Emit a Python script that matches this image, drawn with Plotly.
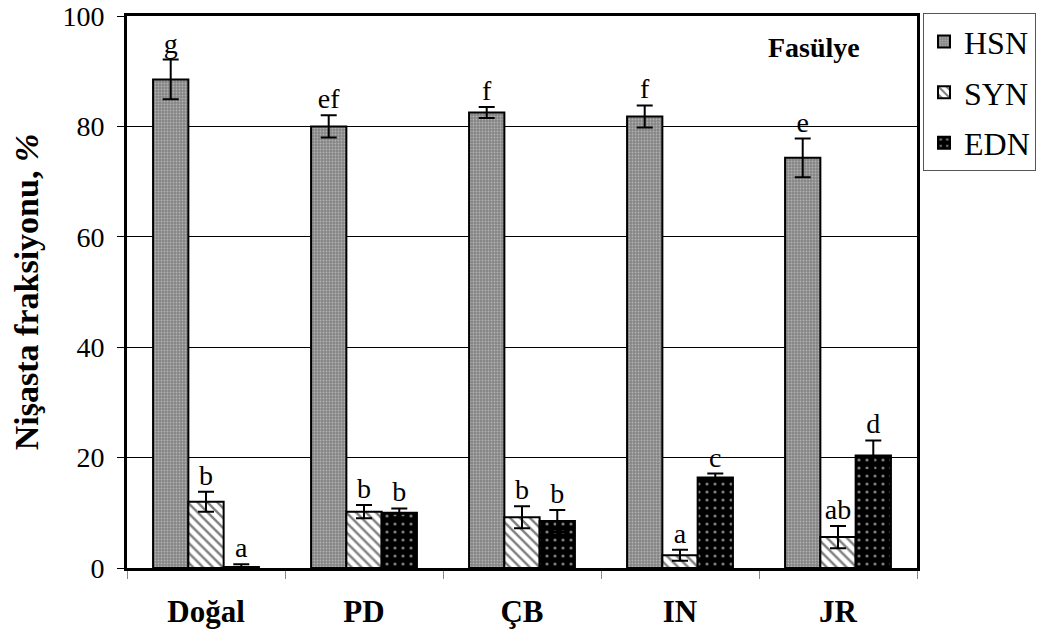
import plotly.graph_objects as go

categories = ["Doğal", "PD", "ÇB", "IN", "JR"]
series = ["HSN", "SYN", "EDN"]
hsn = [88.5, 80.0, 82.5, 81.8, 74.3]
hsn_err = [3.6, 2.0, 1.0, 2.0, 3.5]
syn = [12.0, 10.2, 9.2, 2.3, 5.6]
syn_err = [1.8, 1.2, 2.0, 1.0, 2.0]
edn = [0.2, 10.0, 8.5, 16.4, 20.4]
edn_err = [0.5, 0.8, 2.0, 0.7, 2.7]
hsn_letters = ["g", "ef", "f", "f", "e"]
syn_letters = ["b", "b", "b", "a", "ab"]
edn_letters = ["a", "b", "b", "c", "d"]
y_ticks = [0, 20, 40, 60, 80, 100]

FONT = "Liberation Serif"

styles = {
    "HSN": dict(color="#8c8c8c", pattern=dict(shape=".", fgcolor="#e0e0e0", bgcolor="#858585", size=3, solidity=0.3)),
    "SYN": dict(color="white", pattern=dict(shape="\\", fgcolor="black", bgcolor="white", size=7, solidity=0.35)),
    "EDN": dict(color="black", pattern=dict(shape=".", fgcolor="white", bgcolor="black", size=8, solidity=0.12)),
}

data = [("HSN", hsn, hsn_err, hsn_letters), ("SYN", syn, syn_err, syn_letters), ("EDN", edn, edn_err, edn_letters)]

fig = go.Figure()
for name, vals, errs, letters in data:
    st = styles[name]
    fig.add_trace(go.Bar(
        x=categories, y=vals, name=name, offsetgroup=name, legendgroup=name,
        marker=dict(color=st["color"], pattern=st["pattern"], line=dict(color="black", width=2)),
        error_y=dict(type="data", array=errs, visible=True, color="black", thickness=2, width=8),
    ))
for name, vals, errs, letters in data:
    fig.add_trace(go.Scatter(
        x=categories, y=[v + e for v, e in zip(vals, errs)], mode="text", text=letters,
        textposition="top center", offsetgroup=name, showlegend=False,
        textfont=dict(family=FONT, size=28, color="black"), cliponaxis=False,
    ))

fig.update_layout(
    width=1054, height=641,
    barmode="group", bargap=0.33, bargroupgap=0,
    scattermode="group", scattergap=0.33,
    plot_bgcolor="white", paper_bgcolor="white",
    margin=dict(l=127, r=137, t=16, b=73, autoexpand=False),
    font=dict(family=FONT, color="black", size=28),
    legend=dict(x=1.0076, y=1.005, xanchor="left", yanchor="top", bordercolor="#555", borderwidth=1,
                bgcolor="white", font=dict(size=32, family=FONT, color="black"), tracegroupgap=6,
                itemwidth=30),
    annotations=[dict(text="<b>Fasülye</b>", x=0.93, y=0.975, xref="paper", yref="paper",
                      xanchor="right", yanchor="top", showarrow=False,
                      font=dict(size=28, family=FONT, color="black"))],
)
fig.update_yaxes(range=[0, 100], tickvals=y_ticks,
                 showgrid=True, gridcolor="black", gridwidth=1,
                 showline=True, linecolor="black", linewidth=3, mirror=True,
                 ticks="outside", ticklen=7, tickcolor="black", zeroline=False, automargin=False,
                 ticklabeloverflow="allow", ticklabelstandoff=7,
                 title=dict(text="<b>Nişasta fraksiyonu, <i>%</i></b>", font=dict(size=34, family=FONT, color="black"), standoff=14),
                 tickfont=dict(size=28, family=FONT, color="black"))
fig.update_xaxes(showline=True, linecolor="black", linewidth=3, mirror=True, automargin=False,
                 ticks="outside", tickson="boundaries", ticklen=8, tickcolor="#888",
                 tickfont=dict(size=31, family=FONT, color="black"), ticklabelstandoff=14,
                 tickvals=categories, ticktext=["<b>%s</b>" % c for c in categories])

fig.write_html("out.html", config={"displayModeBar": False},
               post_script="document.body.style.margin='0';")
